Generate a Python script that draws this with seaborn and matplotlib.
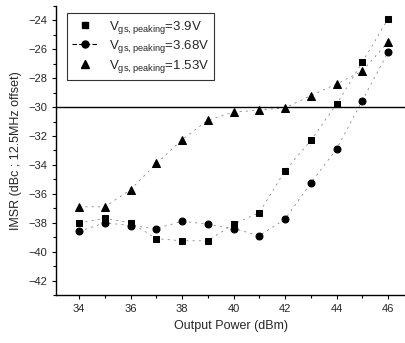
import pandas as pd
import matplotlib
matplotlib.use('Agg')
import matplotlib.pyplot as plt
from matplotlib.lines import Line2D
import seaborn as sns

power = [34, 35, 36, 37, 38, 39, 40, 41, 42, 43, 44, 45, 46]
v390 = [-38.0, -37.7, -38.0, -39.1, -39.25, -39.25, -38.1, -37.3, -34.4, -32.3, -29.8, -26.9, -23.9]
v368 = [-38.6, -38.0, -38.2, -38.4, -37.9, -38.1, -38.4, -38.9, -37.75, -35.25, -32.9, -29.55, -26.2]
v153 = [-36.9, -36.9, -35.7, -33.9, -32.25, -30.9, -30.35, -30.2, -30.05, -29.2, -28.4, -27.5, -25.5]
labels = [r"V$_{\rm gs,peaking}$=3.9V",
          r"V$_{\rm gs,peaking}$=3.68V",
          r"V$_{\rm gs,peaking}$=1.53V"]
markers = ["s", "o", "^"]
limit = -30

df = pd.DataFrame({"power": power, "a": v390, "b": v368, "c": v153})

sns.set_style("ticks")
plt.rcParams['font.family'] = ['Liberation Sans', 'DejaVu Sans']
plt.rcParams['mathtext.fontset'] = 'custom'
plt.rcParams['mathtext.rm'] = 'Liberation Sans'

fig = plt.figure(figsize=(4.06, 3.43), dpi=100)
ax = fig.add_axes([0.138, 0.14, 0.862, 0.8425])

sizes = [4.5, 5, 5.5]
for col, m, ms in zip(["a", "b", "c"], markers, sizes):
    sns.lineplot(data=df, x="power", y=col, ax=ax, color="black", marker=m,
                 markersize=ms, markeredgecolor="black", linewidth=0.5,
                 linestyle=(0, (3, 6)), legend=False)
for ln in ax.lines:
    ln.set_color("0.45")
    ln.set_markerfacecolor("black")
    ln.set_markeredgecolor("black")

ax.axhline(limit, color="black", lw=1.0)

ax.set_xlim(33.1, 46.7)
ax.set_ylim(-43, -23)
ax.set_xticks(range(34, 47, 2))
ax.set_xticks(range(35, 47, 2), minor=True)
ax.set_yticks(range(-42, -23, 2))
ax.set_yticks(range(-43, -22, 2), minor=True)
ax.tick_params(axis="both", which="major", labelsize=8, length=3, width=0.8, color="black")
ax.tick_params(axis="both", which="minor", length=2, width=0.8, color="black")
for s in ["top", "right"]:
    ax.spines[s].set_visible(False)
for s in ["left", "bottom"]:
    ax.spines[s].set_color("black")
    ax.spines[s].set_linewidth(1.0)

ax.set_xlabel("Output Power (dBm)", fontsize=9)
ax.set_ylabel("IMSR (dBc ; 12.5MHz offset)", fontsize=9)

handles = [
    Line2D([], [], color="black", marker="s", markersize=4.5, linestyle="none"),
    Line2D([], [], color="black", marker="o", markersize=5, linestyle=(0, (4, 2)), lw=0.8),
    Line2D([], [], color="black", marker="^", markersize=5.5, linestyle="none"),
]
leg = ax.legend(handles, labels, loc="upper left", bbox_to_anchor=(0.03, 0.975),
                borderaxespad=0, fontsize=9.5, frameon=True, fancybox=False,
                edgecolor="black", handlelength=2.0, labelspacing=0.2,
                borderpad=0.4)
leg.get_frame().set_linewidth(0.8)

fig.savefig("out.png", dpi=100)
